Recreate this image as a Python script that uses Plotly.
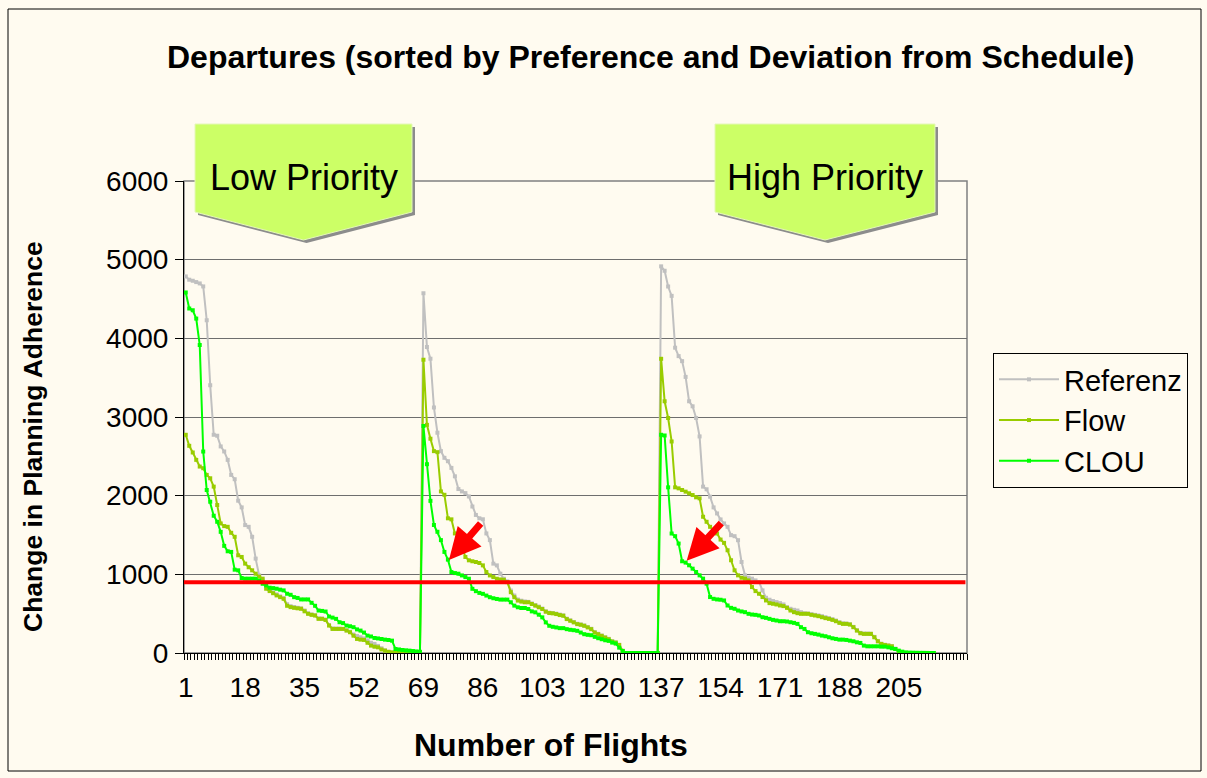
import plotly.graph_objects as go

# ---------------- data ----------------
categories = list(range(1, 216))

referenz_low = [4787, 4745, 4732, 4715, 4698, 4660, 4230, 3404, 2774, 2762,
                2626, 2562, 2455, 2264, 2209, 1936, 1851, 1626, 1604, 1477,
                1200, 987, 923, 870, 800, 770, 745, 720, 700, 620,
                595, 585, 575, 568, 540, 505, 490, 480, 440, 438,
                425, 355, 312, 310, 310, 305, 290, 270, 235, 215,
                200, 185, 160, 130, 115, 90, 60, 35, 15, 5,
                0, 0, 0, 0, 0, 0, 0, 0]
referenz_mid = [4573, 3890, 3741, 3121, 2800, 2566, 2481, 2438, 2353, 2246,
                2084, 2054, 2032, 1990, 1862, 1755, 1712, 1700, 1520, 1435,
                1136, 1114, 1008, 944, 910, 794, 730, 680, 665, 655,
                650, 630, 610, 590, 565, 530, 512, 508, 500, 488,
                478, 436, 415, 394, 372, 363, 350, 330, 308, 265,
                244, 222, 200, 180, 150, 136, 105, 28,
                0, 0, 0, 0, 0, 0, 0, 0, 0, 0]
referenz_high = [4915, 4859, 4659, 4540, 3881, 3774, 3710, 3510, 3200, 3136,
                 2987, 2753, 2115, 2081, 1987, 1851, 1774, 1698, 1647, 1604,
                 1498, 1485, 1434, 1157, 987, 957, 945, 923, 902, 796,
                 702, 677, 660, 647, 634, 617, 583, 562, 549, 540,
                 519, 506, 502, 494, 485, 477, 468, 455, 443, 430,
                 413, 392, 378, 375, 366, 332, 290, 256, 247, 247,
                 245, 205, 150, 118, 105, 96, 88, 55, 10,
                 0, 0, 0, 0, 0, 0, 0, 0, 0, 0]

flow_low = [2774, 2634, 2549, 2455, 2370, 2349, 2264, 2221, 2115, 1881,
            1647, 1613, 1604, 1528, 1477, 1242, 1221, 1136, 1090, 1051,
            1008, 970, 945, 817, 787, 760, 732, 710, 689, 600,
            583, 574, 568, 562, 530, 498, 485, 477, 434, 434,
            420, 349, 306, 306, 306, 306, 285, 264, 220, 179,
            170, 166, 130, 94, 80, 72, 45, 30, 15, 8,
            0, 0, 0, 0, 0, 0, 0, 0]
flow_mid = [3728, 2900, 2724, 2566, 2553, 2054, 2011, 1712, 1699, 1520,
            1499, 1349, 1221, 1178, 1166, 1157, 1144, 1114, 1029, 986,
            965, 944, 935, 931, 901, 773, 709, 666, 653, 645,
            645, 623, 602, 581, 559, 525, 508, 504, 495, 482,
            474, 431, 410, 389, 367, 359, 346, 325, 303, 260,
            239, 218, 196, 175, 145, 132, 102, 26,
            0, 0, 0, 0, 0, 0, 0, 0, 0, 0]
flow_high = [3740, 3200, 2987, 2689, 2106, 2093, 2072, 2051, 2030, 2008,
             1979, 1966, 1732, 1668, 1604, 1562, 1519, 1442, 1400, 1306,
             1179, 1051, 987, 957, 945, 923, 838, 787, 753, 711,
             668, 634, 626, 617, 604, 596, 574, 540, 519, 506,
             498, 498, 498, 485, 477, 468, 455, 443, 434, 421,
             404, 383, 370, 370, 362, 328, 285, 251, 243, 243,
             243, 200, 149, 115, 102, 94, 85, 51, 8,
             0, 0, 0, 0, 0, 0, 0, 0, 0, 0]

clou_low = [4583, 4379, 4357, 4251, 3915, 2561, 2072, 1923, 1745, 1668,
            1540, 1362, 1293, 1285, 1059, 1051, 953, 945, 945, 945,
            945, 920, 880, 860, 830, 825, 817, 805, 796, 753,
            740, 710, 700, 681, 681, 681, 638, 600, 540, 535,
            527, 464, 450, 434, 391, 380, 349, 340, 328, 300,
            285, 260, 221, 210, 191, 185, 178, 170, 165, 157,
            51, 45, 38, 34, 30, 25, 20, 15]
clou_mid = [2886, 2400, 1934, 1627, 1541, 1435, 1285, 1187, 1029, 1016,
            1008, 986, 965, 944, 816, 786, 764, 752, 730, 709,
            696, 687, 679, 679, 679, 645, 602, 581, 572, 572,
            559, 529, 517, 487, 453, 389, 346, 333, 325, 316,
            316, 303, 295, 290, 282, 260, 239, 231, 226, 205,
            188, 175, 162, 154, 132, 120, 68, 26,
            0, 0, 0, 0, 0, 0, 0, 0, 0, 0]
clou_high = [2774, 2765, 2106, 1519, 1485, 1391, 1166, 1149, 1115, 1072,
             1030, 987, 945, 881, 711, 689, 681, 677, 668, 604,
             574, 562, 540, 528, 519, 498, 489, 485, 477, 455,
             447, 434, 421, 413, 404, 404, 400, 391, 383, 370,
             328, 306, 264, 251, 243, 234, 221, 213, 200, 187,
             179, 170, 170, 166, 157, 149, 136, 128, 94, 85,
             85, 85, 85, 81, 81, 72, 60, 51, 30, 17,
             8, 5, 4, 3, 2, 2, 1, 0, 0]

referenz = referenz_low + referenz_mid + referenz_high
flow = flow_low + flow_mid + flow_high
clou = clou_low + clou_mid + clou_high

series_names = ["Referenz", "Flow", "CLOU"]
x_tick_values = [1, 18, 35, 52, 69, 86, 103, 120, 137, 154, 171, 188, 205]
x_tick_labels = [str(v) for v in x_tick_values]
y_tick_values = [0, 1000, 2000, 3000, 4000, 5000, 6000]
threshold = 900
arrow_targets = [(76.3, 1182), (144.3, 1173)]
callout_labels = ["Low Priority", "High Priority"]

# ---------------- styling ----------------
W, H = 1207, 778
PL, PR, PT, PB = 184, 967, 181, 653
BG = "#FFFBF0"
FONT = "Arial, Liberation Sans, sans-serif"
colors = {"Referenz": "#C0C0C0", "Flow": "#99CC00", "CLOU": "#00FF00"}


def px(xp, yp):
    return ((xp - PL) / (PR - PL), (PB - yp) / (PB - PT))


fig = go.Figure()
for name, vals in zip(series_names, [referenz, flow, clou]):
    fig.add_trace(go.Scatter(
        x=categories, y=vals, name=name, mode="lines+markers",
        line=dict(color=colors[name], width=2),
        marker=dict(color=colors[name], size=4, symbol="square"),
    ))

shapes = []
# outer chart border
x0, y0 = px(8, 9)
x1, y1 = px(1201, 771)
shapes.append(dict(type="rect", xref="paper", yref="paper", x0=x0, y0=y0, x1=x1, y1=y1,
                   line=dict(color="black", width=1), layer="below"))
# plot area border
shapes.append(dict(type="rect", xref="x domain", yref="y domain", x0=0, y0=0, x1=1, y1=1,
                   line=dict(color="#808080", width=1.5), layer="below"))
# threshold line
shapes.append(dict(type="line", xref="x domain", yref="y", x0=0, x1=0.998,
                   y0=threshold, y1=threshold, line=dict(color="#FF0000", width=4),
                   layer="above"))


def poly(points):
    pts = [px(a, b) for a, b in points]
    return "M " + " L ".join(f"{a:.5f},{b:.5f}" for a, b in pts) + " Z"


callout_boxes = [(195, 412), (715, 935)]
annotations = []
for (left, right), label in zip(callout_boxes, callout_labels):
    mid = (left + right) / 2
    pts = [(left, 124), (right, 124), (right, 212), (mid, 240), (left, 212)]
    shadow = [(a + 3, b + 3) for a, b in pts]
    shapes.append(dict(type="path", xref="paper", yref="paper", path=poly(shadow),
                       fillcolor="#8C8C8C", line=dict(width=0), layer="above"))
    shapes.append(dict(type="path", xref="paper", yref="paper", path=poly(pts),
                       fillcolor="#CCFF66", line=dict(color="#E4F7B8", width=1), layer="above"))
    tx, ty = px(mid, 178)
    annotations.append(dict(x=tx, y=ty, xref="paper", yref="paper", text=label,
                            showarrow=False, font=dict(family=FONT, size=36, color="black"),
                            xanchor="center", yanchor="middle"))

# red arrows
for (ax_, ay_), (dx, dy) in zip(arrow_targets, [(33, -38), (36, -39)]):
    annotations.append(dict(x=ax_, y=ay_, xref="x", yref="y", text="", showarrow=True,
                            ax=dx, ay=dy, axref="pixel", ayref="pixel",
                            arrowcolor="#FF0000", arrowwidth=7, arrowhead=2, arrowsize=0.9,
                            standoff=0))

# titles
tx, ty = px(650, 57)
annotations.append(dict(x=tx, y=ty, xref="paper", yref="paper",
                        text="<b>Departures (sorted by Preference and Deviation from Schedule)</b>",
                        showarrow=False, font=dict(family=FONT, size=32, color="black"),
                        xanchor="center", yanchor="middle"))
tx, ty = px(551, 745)
annotations.append(dict(x=tx, y=ty, xref="paper", yref="paper",
                        text="<b>Number of Flights</b>",
                        showarrow=False, font=dict(family=FONT, size=32, color="black"),
                        xanchor="center", yanchor="middle"))
tx, ty = px(33, 437)
annotations.append(dict(x=tx, y=ty, xref="paper", yref="paper",
                        text="<b>Change in Planning Adherence</b>", textangle=-90,
                        showarrow=False, font=dict(family=FONT, size=26.5, color="black"),
                        xanchor="center", yanchor="middle"))

lx, ly = px(993, 353)
fig.update_layout(
    width=W, height=H, autosize=False,
    margin=dict(l=PL, r=W - PR, t=PT, b=H - PB, pad=0),
    paper_bgcolor=BG, plot_bgcolor=BG,
    font=dict(family=FONT, size=28, color="black"),
    showlegend=True,
    legend=dict(x=lx, y=ly, xanchor="left", yanchor="top", bgcolor=BG,
                bordercolor="black", borderwidth=1, font=dict(size=29),
                itemwidth=60, tracegroupgap=0),
    shapes=shapes, annotations=annotations,
    xaxis=dict(range=[0.5, 224.5], tickmode="array", tickvals=x_tick_values,
               ticktext=x_tick_labels, ticks="", showgrid=False, zeroline=False,
               showline=True, linecolor="black", linewidth=1,
               tickfont=dict(size=28), ticklabelstandoff=9,
               minor=dict(tickmode="linear", tick0=0.5, dtick=1, ticks="outside",
                          ticklen=6, tickcolor="black", tickwidth=1, showgrid=False)),
    yaxis=dict(range=[0, 6000], tickmode="array", tickvals=y_tick_values,
               ticks="outside", ticklen=8, tickcolor="black", showgrid=True,
               gridcolor="#6E6E6E", gridwidth=1.2, zeroline=False, showline=True,
               linecolor="black", linewidth=1, tickfont=dict(size=28),
               ticklabelstandoff=1),
)

fig.write_html("out.html")
